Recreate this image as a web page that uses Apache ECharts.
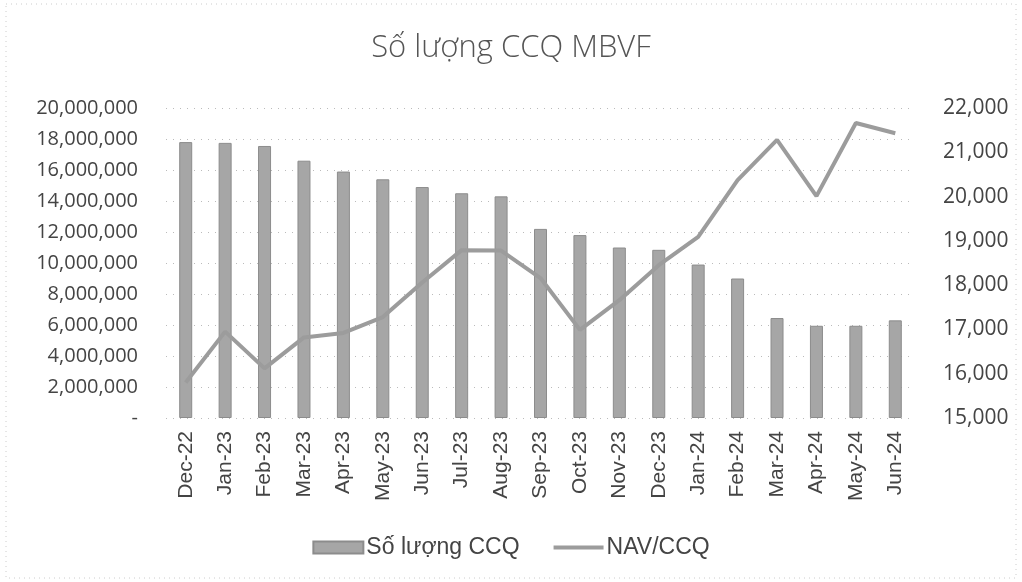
<!DOCTYPE html>
<html><head><meta charset="utf-8">
<script src="https://cdn.jsdelivr.net/npm/echarts@6/dist/echarts.min.js"></script>
<style>html,body{margin:0;padding:0;background:#fff}#c{width:1022px;height:582px}</style>
</head><body><div id="c"></div>
<script>
const categories = ["Dec-22","Jan-23","Feb-23","Mar-23","Apr-23","May-23","Jun-23","Jul-23","Aug-23","Sep-23","Oct-23","Nov-23","Dec-23","Jan-24","Feb-24","Mar-24","Apr-24","May-24","Jun-24"];
const soLuongCCQ = [17800000,17750000,17550000,16600000,15900000,15400000,14900000,14500000,14300000,12200000,11800000,11000000,10850000,9900000,9000000,6450000,5950000,5950000,6300000];
const navCCQ = [15800,16950,16120,16820,16920,17280,18060,18790,18780,18160,16990,17660,18450,19090,20370,21280,20010,21660,21430];
const titleText = "Số lượng CCQ MBVF";
const legendNames = ["Số lượng CCQ","NAV/CCQ"];

const chart = echarts.init(document.getElementById('c'), null, {renderer:'canvas'});
const fmt = v => v === 0 ? '-' : v.toLocaleString('en-US');
chart.setOption({
  animation:false,
  backgroundColor:'#fff',
  title:{text:titleText,left:'center',top:28,textStyle:{fontFamily:'Open Sans',fontWeight:300,fontSize:31,color:'#555'}},
  grid:{left:166,right:107,top:108,bottom:164},
  legend:{bottom:18,left:'center',itemGap:34,itemWidth:50,itemHeight:12,
    textStyle:{fontFamily:'Liberation Sans',fontSize:23,color:'#444',padding:[0,0,0,-2]},
    data:[{name:legendNames[0],icon:'rect'},{name:legendNames[1],icon:'path://M0,0L50,0L50,4L0,4Z'}]},
  xAxis:{type:'category',data:categories,
    axisLine:{show:false},axisTick:{show:false},
    axisLabel:{rotate:90,interval:0,margin:13,fontFamily:'Liberation Sans',fontSize:21,color:'#444'}},
  yAxis:[
    {type:'value',min:0,max:20000000,interval:2000000,
     axisLine:{show:false},axisTick:{show:false},
     splitLine:{show:true,lineStyle:{type:[1,6],color:'#bbb',width:1}},
     axisLabel:{formatter:fmt,margin:28,fontFamily:'Open Sans',fontSize:20,color:'#444'}},
    {type:'value',min:15000,max:22000,interval:1000,
     axisLine:{show:false},axisTick:{show:false},splitLine:{show:false},
     axisLabel:{formatter:v=>v.toLocaleString('en-US'),margin:28,fontFamily:'Open Sans',fontSize:21,color:'#444'}}
  ],
  series:[
    {name:legendNames[0],type:'bar',data:soLuongCCQ,barWidth:13,yAxisIndex:0,
     itemStyle:{color:'#a6a6a6',borderColor:'#8c8c8c',borderWidth:1}},
    {name:legendNames[1],type:'line',data:navCCQ,yAxisIndex:1,symbol:'none',
     lineStyle:{color:'#9c9c9c',width:4},itemStyle:{color:'#9c9c9c'}}
  ],
  graphic:[{type:'rect',shape:{x:6,y:4,width:1010,height:574},style:{fill:'none',stroke:'#ccc',lineWidth:1,lineDash:[1,4]}}]
});
</script></body></html>
